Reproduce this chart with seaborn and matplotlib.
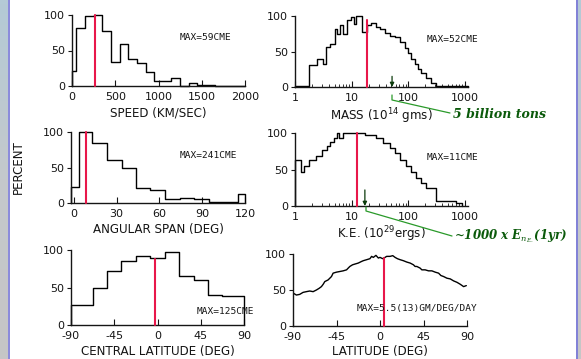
import matplotlib
matplotlib.use("Agg")
import matplotlib.pyplot as plt
import seaborn as sns
import numpy as np
import pandas as pd
from matplotlib.lines import Line2D
from matplotlib.colors import LinearSegmentedColormap

# ---------------- data ----------------
speed_edges = [0, 50, 150, 250, 350, 450, 550, 650, 750, 850, 950, 1050, 1150,
               1250, 1350, 1450, 1550, 1650, 1750, 1850, 1950, 2000]
speed_pct = [21, 81, 98, 100, 77, 34, 59, 38, 32, 20, 7, 7, 11, 0, 4, 1, 1, 0, 0, 0, 0]
speed_median = 262
speed_ticks = [0, 500, 1000, 1500, 2000]

mass_edges = [1.0, 1.79, 2.48, 3.08, 3.52, 4.15, 5.08, 5.58, 6.22, 6.94, 8.16, 9.6,
              11.0, 12.2, 15.6, 18.9, 22.5, 27.6, 31.6, 38.7, 47.5, 58.2, 71.3, 87.3,
              100, 114, 131, 150, 172, 211, 258, 316, 387, 1145]
mass_pct = [1, 31, 40, 33, 57, 61, 81, 75, 88, 74, 94, 98, 89, 100, 78, 88, 90, 85,
            82, 76, 72, 70, 63, 55, 48, 40, 33, 25, 20, 12, 5, 2, 1]
mass_median = 18.4
mass_arrow = 52

span_edges = [-2, 3.5, 13, 23, 33.5, 43.5, 53.5, 64, 74.5, 84.5, 94.5, 109.5, 115, 120]
span_pct = [23, 100, 84, 60, 49, 21, 19, 6, 7, 6, 2, 1, 13]
span_median = 8.4
span_ticks = [0, 30, 60, 90, 120]

ke_edges = [1.0, 1.26, 1.44, 1.79, 2.35, 2.95, 3.62, 4.15, 4.88, 5.44, 6.06, 6.94,
            17.2, 27.6, 36.2, 47.5, 58.2, 71.3, 93.5, 114, 140, 172, 211, 316, 713, 890]
ke_pct = [63, 47, 55, 63, 68, 77, 82, 87, 93, 100, 93, 100, 97, 93, 86, 80, 72, 63,
          55, 47, 38, 32, 25, 7, 4]
ke_median = 12.7
ke_arrow = 17.2

clat_edges = [-90, -67.5, -52.5, -37.5, -22.5, -7.5, 7.5, 22.5, 37.5, 52.5, 67.5, 90]
clat_pct = [27, 49, 72, 86, 92, 89, 98, 66, 60, 40, 39]
clat_median = -2.4

lat_deg = [-89.3, -86.5, -83.1, -79.6, -76.2, -72.7, -69.2, -65.8, -63.0, -60.6, -58.8,
           -57.1, -53.7, -51.9, -50.2, -48.5, -45.0, -41.5, -38.1, -34.6, -32.9, -31.2,
           -28.4, -26.0, -22.5, -19.0, -17.3, -13.8, -10.4, -8.7, -6.9, -4.2, -1.7, 0.0,
           2.8, 5.2, 6.9, 10.4, 13.2, 15.6, 18.0, 20.8, 24.2, 27.7, 31.2, 34.6, 36.3,
           38.1, 41.5, 43.3, 46.7, 50.2, 53.7, 57.1, 60.6, 63.0, 65.8, 69.2, 72.7, 76.2,
           79.6, 83.1, 86.5, 89.3]
lat_pct = [45.3, 43.0, 43.9, 46.7, 47.7, 48.6, 47.7, 50.0, 52.3, 54.7, 57.9, 61.7, 64.0,
           66.4, 68.7, 73.4, 74.8, 75.7, 76.6, 78.0, 80.4, 82.7, 85.0, 86.0, 87.4, 89.7,
           90.7, 92.1, 93.5, 96.7, 95.3, 98.1, 94.4, 95.3, 93.5, 95.3, 96.7, 96.7, 97.7,
           95.3, 93.5, 92.1, 90.7, 88.8, 87.4, 85.0, 82.7, 82.7, 80.4, 78.0, 78.0, 76.6,
           76.6, 74.8, 73.4, 70.1, 68.7, 66.4, 65.4, 62.6, 60.7, 57.9, 54.7, 56.1]
lat_median = 4.5
lat_ticks = [-90, -45, 0, 45, 90]
log_ticks = [1, 10, 100, 1000]
pct_ticks = [0, 50, 100]

# ---------------- style ----------------
sns.set_style("ticks")
plt.rcParams['font.family'] = ['DejaVu Sans']
plt.rcParams['mathtext.fontset'] = 'dejavusans'

W, H = 581, 359
fig = plt.figure(figsize=(W / 100, H / 100), dpi=100)
fig.patch.set_facecolor('white')


def box(l, t, r, b):
    return [l / W, 1 - b / H, (r - l) / W, (b - t) / H]


def fx(x):
    return x / W


def fy(y):
    return 1 - y / H


RED = '#e8174a'
TFS = 8
LFS = 8.6
INK = '#151515'


def style_axes(ax, xlim, xticks, xlabels):
    ax.set_xlim(*xlim)
    ax.set_ylim(0, 100)
    sns.despine(ax=ax)
    for s in ['left', 'bottom']:
        ax.spines[s].set_linewidth(1.0)
        ax.spines[s].set_color(INK)
    ax.set_yticks(pct_ticks)
    ax.set_yticklabels([str(t) for t in pct_ticks], fontsize=TFS, color=INK)
    ax.tick_params(axis='y', direction='out', length=3, width=0.8, pad=2, color=INK)
    ax.set_xticks(xticks)
    ax.set_xticklabels(xlabels, fontsize=TFS, color=INK)
    ax.tick_params(axis='x', which='major', direction='in', length=4, width=0.8,
                   pad=4.5, color=INK)
    ax.tick_params(axis='x', which='minor', direction='in', length=2.5, width=0.6,
                   color=INK)
    ax.set_ylabel('')
    ax.patch.set_alpha(0)


def set_xlabel(ax, text, center_y, axis_bottom, axis_h):
    ax.set_xlabel(text, fontsize=LFS, color=INK)
    ax.xaxis.set_label_coords(0.5, -(center_y - 5.5 - axis_bottom) / axis_h)


def step(ax, edges, pct):
    xs = [edges[0]] + list(edges) + [edges[-1]]
    ys = [0] + list(pct) + [pct[-1], 0]
    df = pd.DataFrame({'x': xs, 'y': ys})
    sns.lineplot(data=df, x='x', y='y', drawstyle='steps-post', estimator=None,
                 sort=False, color='black', lw=1.0, ax=ax, clip_on=False)


def median_line(ax, x, top):
    ax.plot([x, x], [0, top], color=RED, lw=1.5, zorder=3, clip_on=False)


# Panel 1: speed
ax1 = fig.add_axes(box(72, 15, 245, 86))
step(ax1, speed_edges, speed_pct)
median_line(ax1, speed_median, 100)
style_axes(ax1, (0, 2000), speed_ticks, [str(t) for t in speed_ticks])
set_xlabel(ax1, 'SPEED (KM/SEC)', 112, 86, 71)

# Panel 2: mass
ax2 = fig.add_axes(box(295, 16, 468, 87))
ax2.set_xscale('log')
step(ax2, mass_edges, mass_pct)
median_line(ax2, mass_median, 95)
style_axes(ax2, (1, 1145), log_ticks, [str(t) for t in log_ticks])
set_xlabel(ax2, 'MASS (10$^{14}$ gms)', 112, 87, 71)
ax2.annotate('', xy=(mass_arrow, 0), xytext=(mass_arrow, 15),
             arrowprops=dict(arrowstyle='-|>', color='#0a3a0a', lw=0.9,
                             mutation_scale=6, shrinkA=0, shrinkB=0))

# Panel 3: angular span
ax3 = fig.add_axes(box(71, 132, 245, 203))
step(ax3, span_edges, span_pct)
median_line(ax3, span_median, 100)
style_axes(ax3, (-2, 120), span_ticks, [str(t) for t in span_ticks])
set_xlabel(ax3, 'ANGULAR SPAN (DEG)', 229, 203, 71)

# Panel 4: kinetic energy
ax4 = fig.add_axes(box(295, 133, 468, 206))
ax4.set_xscale('log')
step(ax4, ke_edges, ke_pct)
median_line(ax4, ke_median, 100)
style_axes(ax4, (1, 1145), log_ticks, [str(t) for t in log_ticks])
set_xlabel(ax4, 'K.E. (10$^{29}$ergs)', 230, 206, 73)
ax4.annotate('', xy=(ke_arrow, 0), xytext=(ke_arrow, 22),
             arrowprops=dict(arrowstyle='-|>', color='#0a3a0a', lw=0.9,
                             mutation_scale=6, shrinkA=0, shrinkB=0))

# Panel 5: central latitude
ax5 = fig.add_axes(box(71, 250, 244, 325))
step(ax5, clat_edges, clat_pct)
median_line(ax5, clat_median, 88)
style_axes(ax5, (-90, 90), lat_ticks, [str(t) for t in lat_ticks])
set_xlabel(ax5, 'CENTRAL LATITUDE (DEG)', 350, 325, 75)

# Panel 6: latitude (mass per degree)
ax6 = fig.add_axes(box(293, 254, 467, 326))
sns.lineplot(x=lat_deg, y=lat_pct, color='black', lw=1.0, ax=ax6, sort=False,
             estimator=None)
median_line(ax6, lat_median, 95)
style_axes(ax6, (-90, 90), lat_ticks, [str(t) for t in lat_ticks])
set_xlabel(ax6, 'LATITUDE (DEG)', 351, 326, 72)

# MAX labels
mono = dict(family='DejaVu Sans Mono', fontsize=6.8, color=INK, va='center', ha='left')
fig.text(fx(180), fy(38), 'MAX=59CME', **mono)
fig.text(fx(427), fy(40), 'MAX=52CME', **mono)
fig.text(fx(180), fy(156), 'MAX=241CME', **mono)
fig.text(fx(427), fy(158), 'MAX=11CME', **mono)
fig.text(fx(197), fy(311), 'MAX=125CME', **mono)
fig.text(fx(357), fy(309), 'MAX=5.5(13)GM/DEG/DAY', **mono)

# shared y label
fig.text(fx(18), fy(167), 'PERCENT', rotation=90, fontsize=LFS, color=INK,
         ha='center', va='center')

# green hand-written annotations
GL = '#2a9a2a'
GT = '#0b5a0b'
fig.add_artist(Line2D([fx(392), fx(392), fx(450)], [fy(95), fy(100), fy(113)],
                      color=GL, lw=0.9, transform=fig.transFigure))
fig.text(fx(453), fy(114), '5 billion tons', color=GT, fontsize=9, family='DejaVu Serif',
         style='italic', weight='bold', va='center', ha='left')
fig.add_artist(Line2D([fx(366), fx(366), fx(452)], [fy(207), fy(211), fy(236)],
                      color=GL, lw=0.9, transform=fig.transFigure))
plt.rcParams['mathtext.fontset'] = 'dejavuserif'
fig.text(fx(454), fy(236), r'~1000 x E$_{\mathit{n}_{E.}}$(1yr)', color=GT, fontsize=8.5,
         family='DejaVu Serif', style='italic', weight='bold', va='center', ha='left')

# slide border strips
grad = np.linspace(0, 1, 100).reshape(-1, 1)
cm = LinearSegmentedColormap.from_list('b', ['#b4cad6', '#c4c8cc', '#c6c6c6'])
bg = fig.add_axes([0, 0, 8 / W, 1])
bg.imshow(grad, aspect='auto', cmap=cm, extent=[0, 1, 0, 1])
bg.axis('off')
bg2 = fig.add_axes([578 / W, 0, 3 / W, 1])
bg2.imshow(grad, aspect='auto', cmap=cm, extent=[0, 1, 0, 1])
bg2.axis('off')
fig.add_artist(Line2D([fx(8.8), fx(8.8)], [0, 1], color='#7474d4', lw=1.2,
                      transform=fig.transFigure))
fig.add_artist(Line2D([fx(577), fx(577)], [0, 1], color='#6a6ad0', lw=1.2,
                      transform=fig.transFigure))

fig.savefig('out.png', dpi=100)
